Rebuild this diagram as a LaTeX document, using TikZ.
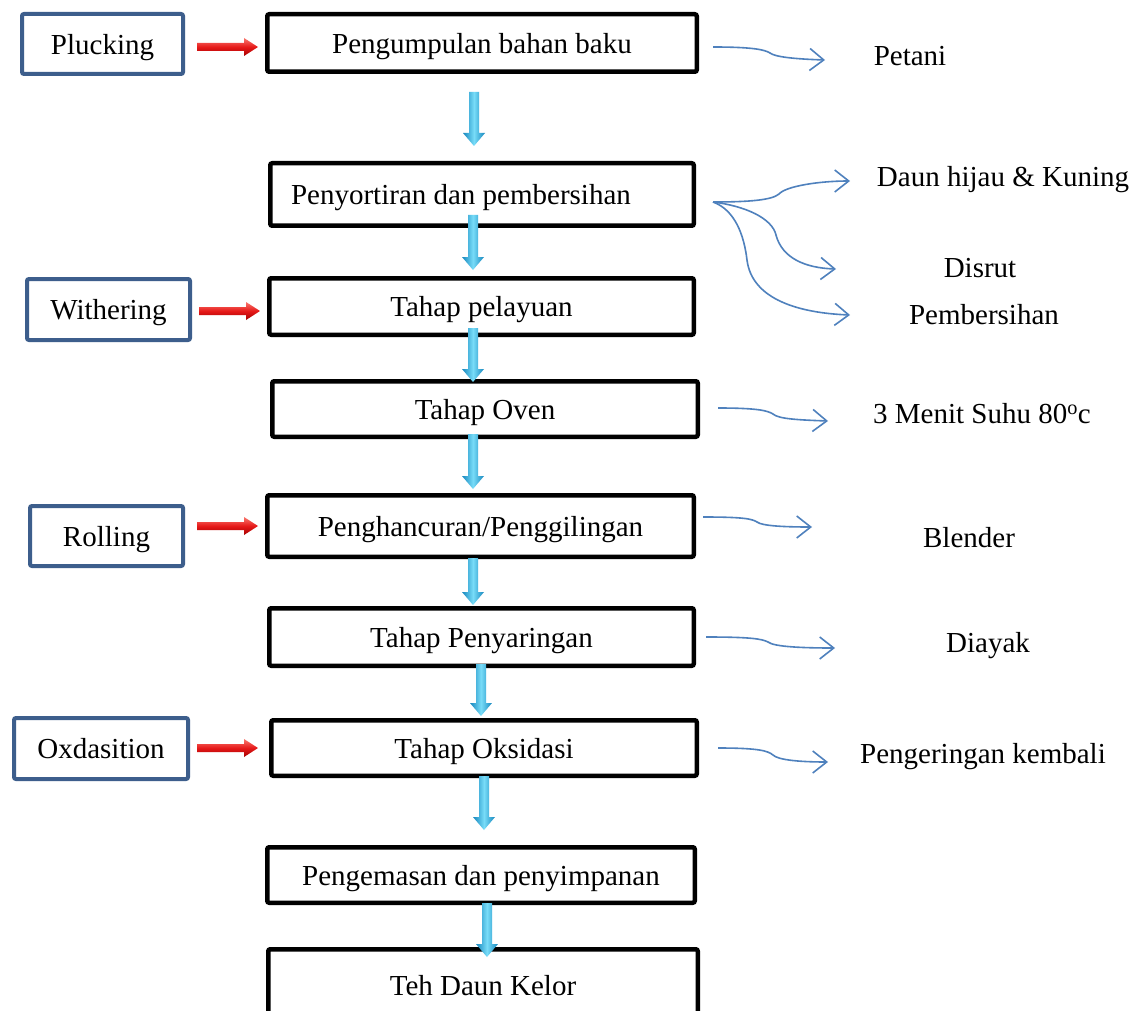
\documentclass[tikz,border=0pt]{standalone}
\usepackage{fontspec}
\setmainfont{Liberation Serif}
\usetikzlibrary{arrows.meta,calc}
\definecolor{boxblue}{RGB}{61,94,140}
\definecolor{curveblue}{RGB}{79,129,189}
\definecolor{cyanD}{RGB}{22,135,190}
\definecolor{cyanL}{RGB}{120,220,248}
\definecolor{redD}{RGB}{165,0,0}
\definecolor{redL}{RGB}{250,120,110}
\definecolor{redM}{RGB}{230,25,25}
\newcommand\redarr[1]{\shade[top color=redL, bottom color=redD, middle color=redM] (#1) ++(0,-4) -- ++(47,0) -- ++(0,-5) -- ++(14,9) -- ++(-14,9) -- ++(0,-5) -- ++(-47,0) -- cycle;}
\newcommand\bluedn[2]{\shade[left color=cyanD, right color=cyanD, middle color=cyanL] (#1) ++(-5,0) -- ++(0,{#2-13}) -- ++(-6,0) -- ++(11,13) -- ++(11,-13) -- ++(-6,0) -- ++(0,{13-#2}) -- cycle;}
\begin{document}
\begin{tikzpicture}[x=1pt,y=-1pt,
  mainbox/.style={draw=black, line width=4.5pt, rounded corners=2pt, inner sep=0pt, fill=white, text depth=0pt},
  sidebox/.style={draw=boxblue, line width=4pt, rounded corners=2pt, inner sep=0pt, fill=white, text depth=0pt},
  lbl/.style={inner sep=0pt},
  curvy/.style={draw=curveblue, line width=1.6pt, -{Straight Barb[length=14pt,width=22pt]}},
  font=\fontsize{29}{34}\selectfont]
\fill[white] (0,0) rectangle (1143,1011);
\useasboundingbox (0,0) rectangle (1143,1011);

% main boxes
\node[mainbox, minimum width=429.5, minimum height=57.5] (n1) at (482,43) {Pengumpulan bahan baku};
\node[mainbox, minimum width=423.5, minimum height=62.5] (n2) at (482,194.5) {\hspace*{-42pt}Penyortiran dan pembersihan};
\node[mainbox, minimum width=424.5, minimum height=56.5] (n3) at (481.5,306.5) {Tahap pelayuan};
\node[mainbox, minimum width=425.5, minimum height=55.5] (n4) at (485,409) {Tahap Oven};
\node[mainbox, minimum width=426.5, minimum height=61.5] (n5) at (480.5,526) {Penghancuran/Penggilingan};
\node[mainbox, minimum width=424.5, minimum height=57.5] (n6) at (481.5,637) {Tahap Penyaringan};
\node[mainbox, minimum width=425.5, minimum height=55.5] (n7) at (484,748) {Tahap Oksidasi};
\node[mainbox, minimum width=427.5, minimum height=55.5] (n8) at (481,875) {Pengemasan dan penyimpanan};
\node[mainbox, minimum width=429.5, minimum height=71.5] (n9) at (483,985) {Teh Daun Kelor};

% side boxes
\node[sidebox, minimum width=161, minimum height=60] (pl) at (102.5,44) {Plucking};
\node[sidebox, minimum width=163, minimum height=61] (wi) at (108.5,309.5) {Withering};
\node[sidebox, minimum width=153, minimum height=60] (ro) at (106.5,536) {Rolling};
\node[sidebox, minimum width=174, minimum height=61] (ox) at (101,748.5) {Oxdasition};

% red arrows
\redarr{197,47}
\redarr{199,311}
\redarr{197,526}
\redarr{197,748}

% blue down arrows
\bluedn{474,92}{54}
\bluedn{473,215}{55}
\bluedn{473,328}{54}
\bluedn{473,434}{55}
\bluedn{473,558}{47}
\bluedn{481,664}{52}
\bluedn{484,776}{54}
\bluedn{487,903}{54}

% right labels
\node[lbl] (t1) at (910,56) {Petani};
\node[lbl] (t2) at (1003,180) {Daun hijau \& Kuning};
\node[lbl] (t3) at (980,268) {Disrut};
\node[lbl] (t4) at (984,315) {Pembersihan};
\node[lbl] (t5) at (982,414) {3 Menit Suhu 80\textsuperscript{o}c};
\node[lbl] (t6) at (969,538) {Blender};
\node[lbl] (t7) at (988,646) {Diayak};
\node[lbl] (t8) at (983,757) {Pengeringan kembali};

% curvy connectors
\coordinate (s1) at (713,47);   \coordinate (e1) at (825,60);
\coordinate (s2) at (713,202);
\coordinate (s4) at (718,408);  \coordinate (e4) at (828,421);
\coordinate (s5) at (703,517);  \coordinate (e5) at (812,527);
\coordinate (s6) at (706,637);  \coordinate (e6) at (835,648);
\coordinate (s7) at (718,748);  \coordinate (e7) at (828,762);

\draw[curvy] (s1) .. controls (755,47) and (765,50) .. (770,53) .. controls (775,57) and (795,59) .. (e1);
\draw[curvy] (s4) .. controls (760,408) and (768,411) .. (773,414) .. controls (778,419) and (800,420) .. (e4);
\draw[curvy] (s5) .. controls (745,517) and (752,519) .. (757,522) .. controls (762,526) and (785,527) .. (e5);
\draw[curvy] (s6) .. controls (752,637) and (762,639) .. (768,642) .. controls (774,647) and (805,648) .. (e6);
\draw[curvy] (s7) .. controls (760,748) and (768,751) .. (773,755) .. controls (778,760) and (800,762) .. (e7);

\draw[curvy] (s2) .. controls (750,202) and (772,200) .. (779,194) .. controls (786,186) and (820,181) .. (850,181);
\draw[curvy] (s2) .. controls (745,206) and (772,218) .. (776,235) .. controls (782,258) and (805,268) .. (836,269);
\draw[curvy] (s2) .. controls (735,210) and (744,235) .. (747,260) .. controls (752,300) and (800,313) .. (850,315);
\end{tikzpicture}
\end{document}
